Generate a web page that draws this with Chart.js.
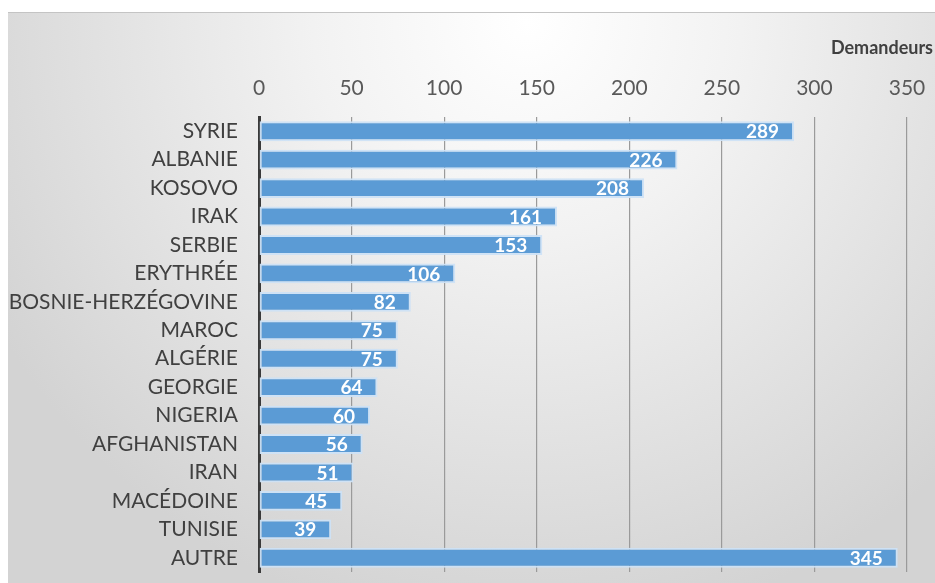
<!DOCTYPE html>
<html lang="fr">
<head>
<meta charset="utf-8">
<title>Demandeurs par pays</title>
<script src="https://cdn.jsdelivr.net/npm/chart.js@4.4.1/dist/chart.umd.min.js"></script>
<style>
  html, body { margin: 0; padding: 0; background: #fff; }
  #wrap { position: absolute; left: 8px; top: 12px; width: 927px; height: 571px; }
  canvas { display: block; }
</style>
</head>
<body>
<div id="wrap"><canvas id="chart" width="927" height="571"></canvas></div>
<script>
const pays = ['SYRIE', 'ALBANIE', 'KOSOVO', 'IRAK', 'SERBIE', 'ERYTHRÉE', 'BOSNIE-HERZÉGOVINE',
  'MAROC', 'ALGÉRIE', 'GEORGIE', 'NIGERIA', 'AFGHANISTAN', 'IRAN', 'MACÉDOINE', 'TUNISIE', 'AUTRE'];
const demandeurs = [289, 226, 208, 161, 153, 106, 82, 75, 75, 64, 60, 56, 51, 45, 39, 345];
const graduations = [0, 50, 100, 150, 200, 250, 300, 350];
const titre = 'Demandeurs';

const police = 'Lato, "Liberation Sans", sans-serif';

// fond dégradé clair au centre haut, gris sur les bords
const fond = {
  id: 'fond',
  beforeDraw(chart) {
    const { ctx, width, height } = chart;
    const cx = width * 0.56;
    const g = ctx.createRadialGradient(cx, 10, 0, cx, 10, width * 0.66);
    g.addColorStop(0, '#ffffff');
    g.addColorStop(0.35, '#f2f2f2');
    g.addColorStop(1, '#d3d3d3');
    ctx.save();
    ctx.fillStyle = g;
    ctx.fillRect(0, 0, width, height);
    ctx.fillStyle = '#c4c4c4';
    ctx.fillRect(0, 0, width, 1);
    ctx.restore();
  }
};

// valeurs en blanc à l'intérieur du bout de chaque barre
const etiquettes = {
  id: 'etiquettes',
  afterDatasetsDraw(chart) {
    const { ctx } = chart;
    const meta = chart.getDatasetMeta(0);
    ctx.save();
    ctx.font = 'bold 19px ' + police;
    ctx.fillStyle = '#ffffff';
    ctx.textAlign = 'right';
    ctx.textBaseline = 'middle';
    meta.data.forEach((bar, i) => {
      ctx.fillText(String(demandeurs[i]), bar.x - 15, bar.y + 1);
    });
    ctx.restore();
  }
};

// intitulé de l'axe, en haut à droite
const intitule = {
  id: 'intitule',
  afterDraw(chart) {
    const { ctx, width } = chart;
    ctx.save();
    ctx.font = 'bold 18px ' + police;
    ctx.fillStyle = '#404040';
    ctx.textAlign = 'right';
    ctx.textBaseline = 'middle';
    ctx.fillText(titre, width - 2, 36);
    ctx.restore();
  }
};

new Chart(document.getElementById('chart').getContext('2d'), {
  type: 'bar',
  data: {
    labels: pays,
    datasets: [{
      data: demandeurs,
      backgroundColor: '#5b9bd5',
      borderColor: 'rgba(205, 226, 245, 0.95)',
      borderWidth: 2,
      borderSkipped: false,
      barPercentage: 0.7,
      categoryPercentage: 1
    }]
  },
  options: {
    indexAxis: 'y',
    responsive: false,
    animation: false,
    layout: { padding: { left: 0, right: 28, top: 0, bottom: 11 } },
    plugins: {
      legend: { display: false },
      tooltip: { enabled: false }
    },
    scales: {
      x: {
        position: 'top',
        min: 0,
        max: 350,
        afterBuildTicks(scale) {
          scale.ticks = graduations.map(v => ({ value: v }));
        },
        afterFit(scale) {
          scale.height = 105;
          scale.paddingLeft = 0;
          scale.paddingRight = 0;
        },
        grid: { color: '#9a9a9a', lineWidth: 1.2, drawTicks: false },
        border: { display: false },
        ticks: {
          color: '#595959',
          font: { family: police, size: 21 },
          padding: 16
        }
      },
      y: {
        afterFit(scale) {
          scale.width = 251;
          scale.paddingTop = 0;
          scale.paddingBottom = 0;
        },
        grid: { display: false, drawTicks: false },
        border: { display: true, color: '#3a3a3a', width: 3 },
        ticks: {
          color: '#404040',
          font: { family: police, size: 21 },
          padding: 21,
          autoSkip: false
        }
      }
    }
  },
  plugins: [fond, etiquettes, intitule]
});
</script>
</body>
</html>
